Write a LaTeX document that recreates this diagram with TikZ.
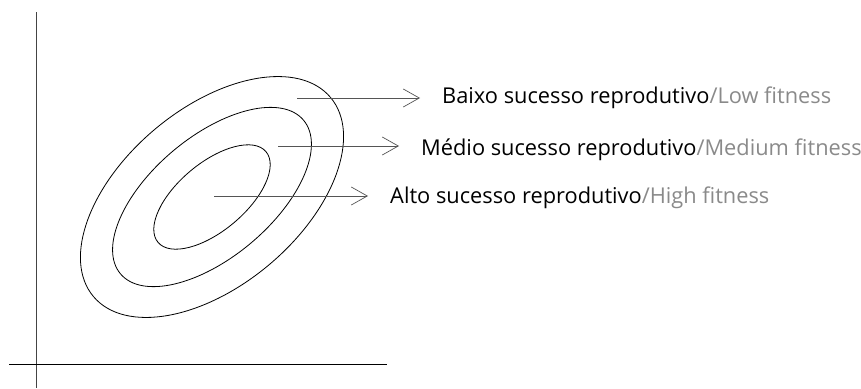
\documentclass[tikz,border=0pt]{standalone}
\usepackage{fontspec}
\setmainfont{Open Sans}
\usepackage{tikz}
\usetikzlibrary{positioning, arrows.meta}
\usepackage{xcolor}
\definecolor{fitgray}{HTML}{8A8A8A}
\definecolor{fitline}{HTML}{555555}
\definecolor{fitaxis}{HTML}{444444}

\begin{document}
\begin{tikzpicture}[x=1pt, y=-1pt,
  contour/.style={black, line width=0.8pt},
  pointer/.style={fitline, line width=0.7pt, -{Straight Barb[length=16pt, width=18pt, line width=0.7pt]}, shorten >=22pt},
  lbl/.style={anchor=base west, inner sep=0pt, font=\fontsize{21.8}{26}\selectfont}]
\useasboundingbox (0,0) rectangle (861,388);
% axes
\draw[fitaxis, line width=0.8pt] (36.5,12) -- (36.5,388);
\draw[black, line width=0.8pt] (9,364) -- (387,364);
% fitness contours
\coordinate (peak) at (212,197);
\draw[contour] (peak) ellipse [x radius=154.8pt, y radius=88.6pt, rotate=40];
\draw[contour] (peak) ellipse [x radius=119.5pt, y radius=60.3pt, rotate=40];
\draw[contour] (peak) ellipse [x radius=70.5pt, y radius=33.8pt, rotate=40];
% labels
\node[lbl] (low) at (442,103.3) {Baixo sucesso reprodutivo\textcolor{fitgray}{/Low fitness}};
\node[lbl] (medium) at (421,155) {Médio sucesso reprodutivo\textcolor{fitgray}{/Medium fitness}};
\node[lbl] (high) at (390,203.3) {Alto sucesso reprodutivo\textcolor{fitgray}{/High fitness}};
\coordinate (lowfrom) at (297,98);
\coordinate (mediumfrom) at (278,146);
\coordinate (highfrom) at (214,196);
\draw[pointer] (lowfrom) -- (lowfrom -| low.west);
\draw[pointer] (mediumfrom) -- (mediumfrom -| medium.west);
\draw[pointer] (highfrom) -- (highfrom -| high.west);
\end{tikzpicture}
\end{document}
